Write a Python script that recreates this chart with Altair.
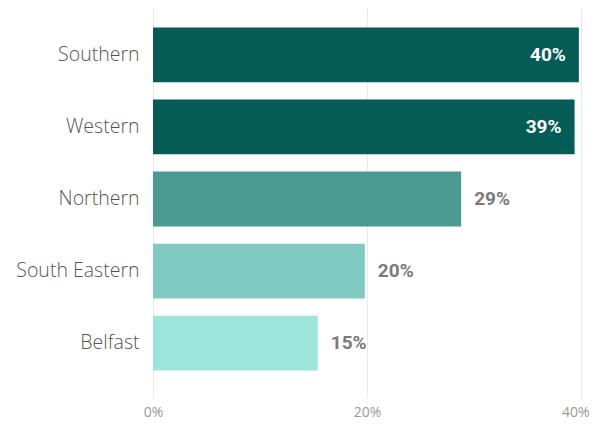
import altair as alt
import pandas as pd

regions = ["Southern", "Western", "Northern", "South Eastern", "Belfast"]
values = [39.8, 39.4, 28.8, 19.8, 15.4]
colors = ["#035C55", "#035C55", "#4A9A92", "#7FCBC3", "#9DE4DB"]
inside = [True, True, False, False, False]
x_ticks = [0, 20, 40]

df = pd.DataFrame({
    "region": regions,
    "value": values,
    "color": colors,
    "inside": inside,
    "label": [f"{round(v):.0f}%" for v in values],
})

y = alt.Y("region:N", sort=regions, title=None,
          scale=alt.Scale(paddingInner=0.24, paddingOuter=0.38),
          axis=alt.Axis(ticks=False, domain=False, labelPadding=14,
                        labelFont="Open Sans", labelFontWeight=300,
                        labelFontSize=19.5, labelColor="#555555", grid=False))
x = alt.X("value:Q", title=None,
          scale=alt.Scale(domain=[0, 40], nice=False),
          axis=alt.Axis(values=x_ticks, labelExpr="datum.value + '%'",
                        ticks=False, domain=False, grid=True, gridColor="#EAEAEA",
                        labelFont="Open Sans", labelFontSize=14, labelColor="#999999",
                        labelPadding=7, labelFlush=False,
                        labelAlign={"condition": {"test": "datum.value == 40", "value": "right"},
                                    "value": "center"},
                        labelOffset={"condition": {"test": "datum.value == 40", "value": 8},
                                     "value": 0}))

bars = alt.Chart(df).mark_bar(stroke=None).encode(
    y=y, x=x, color=alt.Color("color:N", scale=None)
)

lab_in = alt.Chart(df).transform_filter("datum.inside").mark_text(
    align="right", baseline="middle", dx=-13, font="Roboto", fontWeight="bold",
    fontSize=19, color="#FFFFFF"
).encode(y=alt.Y("region:N", sort=regions), x="value:Q", text="label:N")

lab_out = alt.Chart(df).transform_filter("!datum.inside").mark_text(
    align="left", baseline="middle", dx=13, font="Roboto", fontWeight="bold",
    fontSize=19, color="#7A7A7A"
).encode(y=alt.Y("region:N", sort=regions), x="value:Q", text="label:N")

chart = alt.layer(bars, lab_in, lab_out).properties(
    width=428, height=398,
    autosize=alt.AutoSizeParams(type="none"),
    padding={"left": 145, "top": -8, "right": 9, "bottom": 29},
).configure_view(stroke=None)

chart.save("out.html", embed_options={"renderer": "svg", "actions": False})
